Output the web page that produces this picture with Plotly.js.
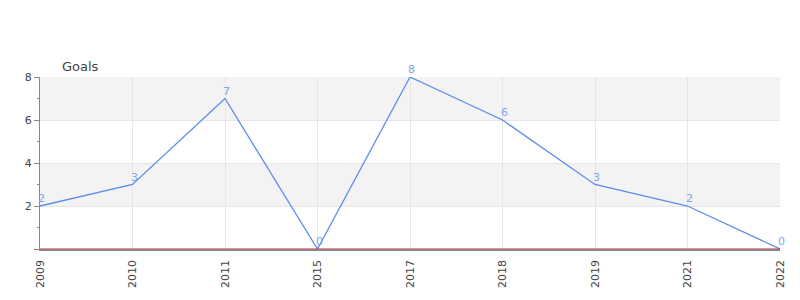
<!DOCTYPE html>
<html>
<head>
<meta charset="utf-8">
<script src="https://cdn.plot.ly/plotly-3.0.1.min.js"></script>
<style>html,body{margin:0;padding:0;background:#fff;}#chart{width:800px;height:300px;}</style>
</head>
<body>
<div id="chart"></div>
<script>
var years = ['2009','2010','2011','2015','2017','2018','2019','2021','2022'];
var goals = [2, 3, 7, 0, 8, 6, 3, 2, 0];
var yTicks = [0, 2, 4, 6, 8];
var yTickText = ['', '2', '4', '6', '8'];
var bands = [[2, 4], [6, 8]];

var trace = {
  x: years,
  y: goals,
  type: 'scatter',
  mode: 'lines',
  line: {color: '#5b8def', width: 1.3},
  cliponaxis: false,
  hoverinfo: 'none'
};

var shapes = bands.map(function (b) {
  return {type: 'rect', xref: 'paper', yref: 'y', x0: 0, x1: 1, y0: b[0], y1: b[1],
          fillcolor: '#f3f3f3', line: {width: 0}, layer: 'below'};
});
shapes.push({type: 'line', xref: 'paper', yref: 'y', x0: 0, x1: 1, y0: 0, y1: 0,
             line: {color: '#e8141b', width: 1}, layer: 'above'});

// category axis: annotation x given as category index
var annotations = years.map(function (yr, i) {
  return {x: i, y: goals[i], xref: 'x', yref: 'y', text: String(goals[i]),
          showarrow: false, xanchor: 'center', yanchor: 'bottom', xshift: 1.5, yshift: -1,
          font: {size: 11, color: '#7ea5ee'}};
});
annotations.push({
  text: 'Goals', xref: 'paper', yref: 'paper', x: 0.027, y: 1, xanchor: 'left', yanchor: 'bottom',
  yshift: 1, showarrow: false, font: {size: 13, color: '#444'}
});

var layout = {
  width: 800, height: 300,
  margin: {l: 40, r: 20, t: 77, b: 51},
  paper_bgcolor: '#fff', plot_bgcolor: 'rgba(0,0,0,0)',
  showlegend: false,
  font: {family: 'DejaVu Sans, sans-serif', color: '#444'},
  xaxis: {
    type: 'category', range: [0, years.length - 1],
    tickangle: -90, tickfont: {size: 11, color: '#444'},
    showgrid: true, gridcolor: '#e6e6e6', gridwidth: 1,
    showline: true, linecolor: '#888', linewidth: 1.5,
    ticks: '', ticklabelstandoff: 5,
    zeroline: false, fixedrange: true
  },
  yaxis: {
    range: [0, 8], tickvals: yTicks, ticktext: yTickText,
    tickfont: {size: 11, color: '#444'},
    showgrid: true, gridcolor: '#e6e6e6', gridwidth: 1,
    showline: true, linecolor: '#888', linewidth: 1,
    ticks: 'outside', ticklen: 5, tickcolor: '#888',
    minor: {dtick: 1, tick0: 0, ticks: 'outside', ticklen: 2, tickcolor: '#888', showgrid: false},
    zeroline: false, fixedrange: true
  },
  shapes: shapes,
  annotations: annotations
};

Plotly.newPlot('chart', [trace], layout, {staticPlot: true, displayModeBar: false});
</script>
</body>
</html>
